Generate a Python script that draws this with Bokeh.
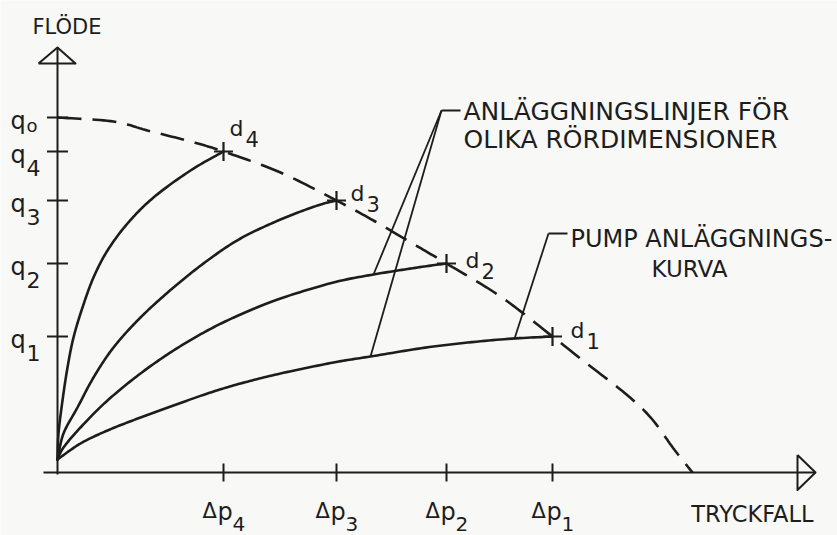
import numpy as np
from bokeh.plotting import figure
from bokeh.models import Range1d
from bokeh.core.properties import value
from bokeh.embed import file_html
from bokeh.resources import INLINE

# ---------------------------------------------------------------------------
# Operating points d1..d4: pressure drop and flow for each pipe dimension
# ---------------------------------------------------------------------------
dp_points = [49.5, 38.9, 27.9, 16.6]      # Δp1 .. Δp4
q_points = [13.6, 20.9, 27.2, 32.1]       # q1 .. q4
point_index = ["1", "2", "3", "4"]
q_shutoff = 35.5                          # q0, pump flow at zero pressure drop

# System curves (anläggningslinjer), one per pipe dimension
sys1_dp = [0, 2.3, 5.0, 8.3, 11.6, 15.0, 18.3, 22.3, 27.6, 31.3, 37.6, 44.3, 49.5]
sys1_q = [1.3, 2.9, 4.2, 5.5, 6.7, 7.9, 8.9, 9.9, 11.0, 11.6, 12.6, 13.3, 13.6]

sys2_dp = [0, 0.6, 2.3, 5.0, 8.3, 11.6, 15.0, 18.3, 22.3, 27.6, 31.6, 36.0, 38.9]
sys2_q = [1.3, 2.5, 4.5, 7.2, 9.9, 12.2, 14.2, 15.8, 17.4, 19.0, 19.8, 20.5, 20.9]

sys3_dp = [0, 0.6, 2.0, 3.6, 5.6, 8.3, 11.6, 15.0, 18.3, 22.3, 26.0, 27.9]
sys3_q = [1.3, 3.9, 6.5, 9.5, 12.5, 15.5, 18.5, 21.2, 23.4, 25.3, 26.7, 27.2]

sys4_dp = [0, 0.1, 0.5, 1.0, 1.6, 2.5, 3.6, 5.0, 7.0, 9.6, 13.3, 16.6]
sys4_q = [1.3, 3.9, 7.2, 10.5, 13.5, 16.5, 19.5, 22.2, 24.9, 27.5, 30.2, 32.1]

# Pump curve (pumpkurva), from shut-off flow down to the Δp axis
pump_dp = [0, 5.6, 9.0, 13.3, 16.6, 22.3, 27.9, 31.6, 35.0, 38.9, 44.3, 49.5,
           52.8, 56.9, 59.4, 61.6, 63.5]
pump_q = [35.5, 35.1, 34.2, 33.1, 32.1, 30.0, 27.2, 25.2, 23.2, 20.9, 17.6, 13.6,
          11.0, 7.8, 5.4, 2.4, 0]

# Axis titles and annotation texts
y_title = "FLÖDE"
x_title = "TRYCKFALL"
note_lines = ["ANLÄGGNINGSLINJER FÖR", "OLIKA RÖRDIMENSIONER"]
pump_lines = ["PUMP ANLÄGGNINGS-", "KURVA"]

# ---------------------------------------------------------------------------
# Styling
# ---------------------------------------------------------------------------
BG = "#f8f8f7"
INK = "#1d1d1d"
FONT = value("DejaVu Sans")
TEXT_NUDGE = -7          # screen-pixel correction of the text baseline


def smooth_path(xs, ys, steps=16):
    """Catmull-Rom path through the given points, used only for drawing."""
    pts = np.column_stack([xs, ys]).astype(float)
    ext = np.vstack([pts[0], pts, pts[-1]])
    out = [pts[0]]
    t = np.linspace(0, 1, steps + 1)[1:, None]
    for i in range(1, len(ext) - 2):
        p0, p1, p2, p3 = ext[i - 1], ext[i], ext[i + 1], ext[i + 2]
        c1 = p1 + (p2 - p0) / 6.0
        c2 = p2 - (p3 - p1) / 6.0
        seg = ((1 - t) ** 3) * p1 + 3 * ((1 - t) ** 2) * t * c1 \
            + 3 * (1 - t) * t ** 2 * c2 + t ** 3 * p2
        out.extend(seg)
    out = np.array(out)
    return out[:, 0], out[:, 1]


W, H = 837, 535
p = figure(width=W, height=H,
           x_range=Range1d(-5.7, 78.0), y_range=Range1d(-6.3, 47.2),
           x_axis_type=None, y_axis_type=None,
           toolbar_location=None, output_backend="svg",
           min_border=0, outline_line_color=None,
           background_fill_color=BG, border_fill_color=BG)
p.grid.visible = False

# --- axes with open arrowheads ---------------------------------------------
x_end, y_end = 75.8, 42.5
p.line([-1.4, x_end], [0, 0], line_color=INK, line_width=2)
p.line([0, 0], [-0.2, y_end], line_color=INK, line_width=2)
p.line([74.0, x_end, 74.0, 74.0], [1.75, 0, -1.75, 1.75],
       line_color=INK, line_width=2, line_join="round")
p.line([-1.9, 0, 1.8, -1.9], [40.9, y_end, 40.9, 40.9],
       line_color=INK, line_width=2, line_join="round")

# ticks at q0..q4 and Δp1..Δp4
p.scatter([0] * 5, [q_shutoff] + q_points, marker="dash", size=21,
          line_color=INK, line_width=2)
p.scatter(dp_points, [0] * 4, marker="dash", angle=np.pi / 2, size=18,
          line_color=INK, line_width=2)

# --- pump curve and system curves -------------------------------------------
px, py = smooth_path(pump_dp, pump_q)
p.line(px, py, line_color=INK, line_width=2.6, line_dash="24 11")
for xs, ys in [(sys1_dp, sys1_q), (sys2_dp, sys2_q),
               (sys3_dp, sys3_q), (sys4_dp, sys4_q)]:
    sx, sy = smooth_path(xs, ys)
    p.line(sx, sy, line_color=INK, line_width=2.6, line_join="round",
           line_cap="round")

# operating points
p.scatter(dp_points, q_points, marker="cross", size=19, line_color=INK,
          line_width=2.2)


# --- labels -----------------------------------------------------------------
def label(x, y, text, size, dx=0, dy=0, align="left"):
    if isinstance(dy, list):
        dy = [v + TEXT_NUDGE for v in dy]
    else:
        dy = dy + TEXT_NUDGE
    p.text(x=x, y=y, text=text, x_offset=dx, y_offset=dy,
           text_font=FONT, text_font_size=size, text_color=INK,
           text_align=align, text_baseline="alphabetic")


# q0..q4 on the flow axis
label([0] * 5, [q_shutoff] + q_points, ["q"] * 5, "24px", dx=-47, dy=10)
label([0], [q_shutoff], ["o"], "18px", dx=-31, dy=15)
label([0] * 4, q_points, point_index, "22px", dx=-31, dy=23)

# Δp1..Δp4 on the pressure-drop axis
label(dp_points, [0] * 4, ["Δ"] * 4, "21px", dx=-21, dy=45)
label(dp_points, [0] * 4, ["p"] * 4, "24px", dx=-6, dy=46)
label(dp_points, [0] * 4, point_index, "20px", dx=9, dy=58)

# d1..d4 next to the operating points
d_dx = [18, 19, 14, 6]
d_dy = [1, 4, 0, -16]
label(dp_points, q_points, ["d"] * 4, "22px", dx=d_dx, dy=d_dy)
label(dp_points, q_points, point_index, "21px",
      dx=[v + 16 for v in d_dx], dy=[v + 10 for v in d_dy])

# axis titles
label([-2.5], [43.9], [y_title], "21px")
label([75.6], [-4.8], [x_title], "22.5px", align="right")

# annotation: system curves
apex1 = (38.4, 36.2)
p.line([apex1[0], 40.3], [apex1[1], apex1[1]], line_color=INK, line_width=1.8)
for xs, ys, at in [(sys2_dp, sys2_q, 31.6), (sys1_dp, sys1_q, 31.3)]:
    p.line([apex1[0], at], [apex1[1], float(np.interp(at, xs, ys))],
           line_color=INK, line_width=1.8)
label([40.6, 40.6], [35.4, 32.6], note_lines, "25px")

# annotation: pump curve
apex2 = (49.1, 23.9)
p.line([apex2[0], 51.0], [apex2[1], apex2[1]], line_color=INK, line_width=1.8)
p.line([apex2[0], 45.7], [apex2[1], float(np.interp(45.7, sys1_dp, sys1_q))],
       line_color=INK, line_width=1.8)
label([51.3], [22.7], [pump_lines[0]], "24px")
label([63.2], [19.7], [pump_lines[1]], "23px", align="center")

open("out.html", "w").write(file_html(p, INLINE))
